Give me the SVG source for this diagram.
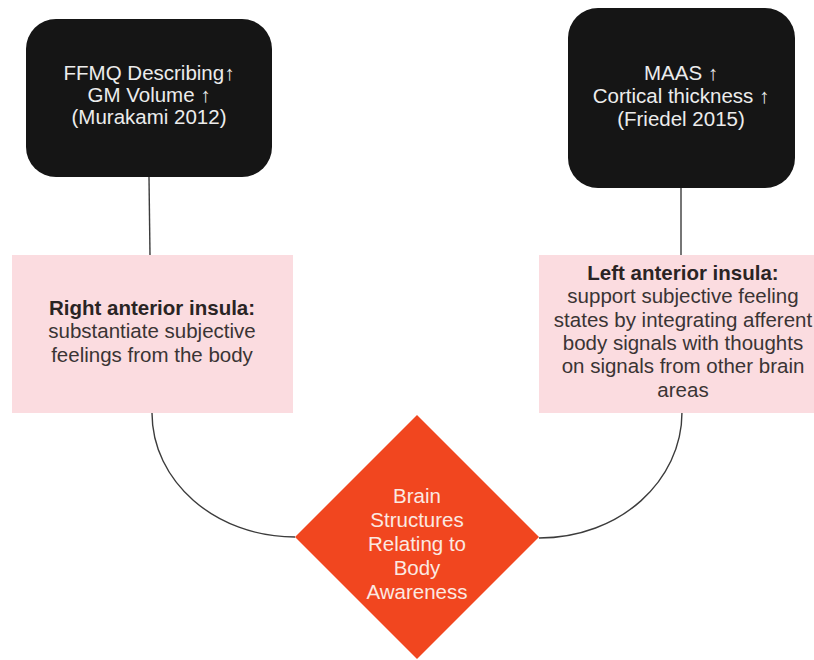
<svg xmlns="http://www.w3.org/2000/svg" width="814" height="660" viewBox="0 0 814 660">
  <style>
    .dark { fill: #151515; }
    .pink { fill: #fbdce0; }
    .hub { fill: #f1461f; }
    .t { font-family: "Liberation Sans", Arial, sans-serif; font-size: 20.5px; text-anchor: middle; }
    .light { fill: #ececec; }
    .body { fill: #3a3434; }
    .head { fill: #2a2424; font-weight: bold; }
    .white { fill: #fbe9e2; }
    .link { fill: none; stroke: #3c3c3c; stroke-width: 1.4; }
  </style>
  <rect width="814" height="660" fill="#ffffff"/>

  <g id="connectors">
    <line class="link" x1="149" y1="177" x2="150" y2="256"/>
    <line class="link" x1="681" y1="188" x2="681" y2="256"/>
    <path class="link" d="M152 413 C152 481 215 537 295 537"/>
    <path class="link" d="M682 412 C682 481 620 538 539 538"/>
  </g>

  <g id="murakami">
    <rect class="dark" x="26" y="19" width="246" height="158" rx="30" ry="30"/>
    <text class="t light" x="149" y="80">FFMQ Describing↑</text>
    <text class="t light" x="149" y="102">GM Volume ↑</text>
    <text class="t light" x="149" y="124">(Murakami 2012)</text>
  </g>

  <g id="friedel">
    <rect class="dark" x="568" y="8" width="227" height="180" rx="30" ry="30"/>
    <text class="t light" x="681" y="80">MAAS ↑</text>
    <text class="t light" x="681" y="103">Cortical thickness ↑</text>
    <text class="t light" x="681" y="126">(Friedel 2015)</text>
  </g>

  <g id="right-insula">
    <rect class="pink" x="12" y="255" width="281" height="158"/>
    <text class="t head" x="152" y="315">Right anterior insula:</text>
    <text class="t body" x="152" y="338">substantiate subjective</text>
    <text class="t body" x="152" y="362">feelings from the body</text>
  </g>

  <g id="left-insula">
    <rect class="pink" x="539" y="255" width="290" height="158"/>
    <text class="t head" x="683" y="280">Left anterior insula:</text>
    <text class="t body" x="683" y="303">support subjective feeling</text>
    <text class="t body" x="683" y="327">states by integrating afferent</text>
    <text class="t body" x="683" y="350">body signals with thoughts</text>
    <text class="t body" x="683" y="373">on signals from other brain</text>
    <text class="t body" x="683" y="397">areas</text>
  </g>

  <g id="body-awareness">
    <polygon class="hub" points="417,415 539,537 417,659 295,537"/>
    <text class="t white" x="417" y="503">Brain</text>
    <text class="t white" x="417" y="527">Structures</text>
    <text class="t white" x="417" y="551">Relating to</text>
    <text class="t white" x="417" y="575">Body</text>
    <text class="t white" x="417" y="599">Awareness</text>
  </g>
</svg>
